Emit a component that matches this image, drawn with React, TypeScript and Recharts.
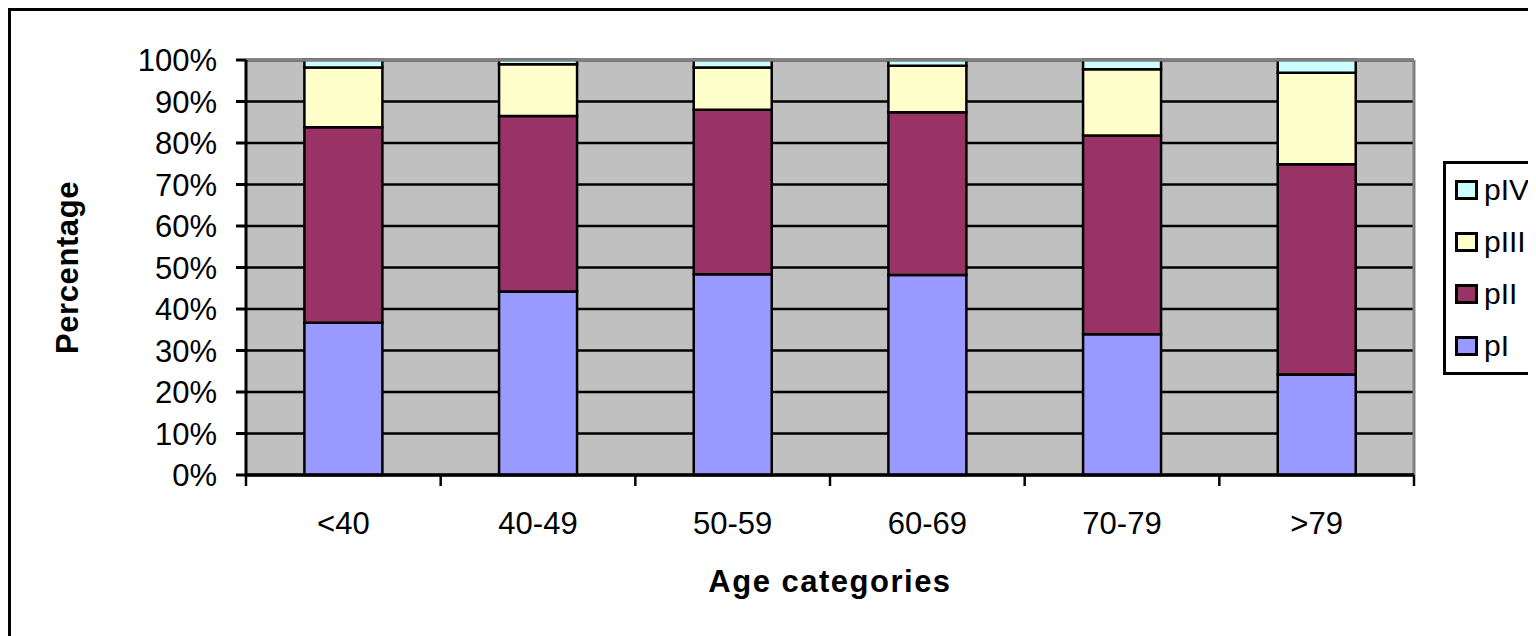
import React from 'react';
import { Bar, BarChart, CartesianGrid, ReferenceLine, XAxis, YAxis } from 'recharts';

// Stacked 100% bars: distribution of stages pI–pIV per age category.

const CATEGORIES = ['<40', '40-49', '50-59', '60-69', '70-79', '>79'];
const P_I = [36.7, 44.2, 48.4, 48.2, 33.9, 24.2];
const P_II = [47.1, 42.3, 39.6, 39.2, 47.9, 50.7];
const P_III = [14.4, 12.5, 10.2, 11.2, 16.0, 22.0];
const P_IV = [1.8, 1.0, 1.8, 1.4, 2.2, 3.1];
const Y_TICKS = [0, 10, 20, 30, 40, 50, 60, 70, 80, 90, 100];

const SERIES = [
  { key: 'pI', label: 'pI', color: '#9999FF' },
  { key: 'pII', label: 'pII', color: '#993366' },
  { key: 'pIII', label: 'pIII', color: '#FFFFCC' },
  { key: 'pIV', label: 'pIV', color: '#CCFFFF' },
];

const FONT = '"Liberation Sans", Arial, sans-serif';

const data = CATEGORIES.map((name, i) => ({
  name,
  pI: P_I[i],
  pII: P_II[i],
  pIII: P_III[i],
  pIV: P_IV[i],
}));

// Category label plus the small tick marks on the group boundaries
// (half a band to either side of the label).
const CatTick = (props: any) => {
  const { x, y, payload, index } = props;
  const half = payload && payload.offset ? payload.offset : 0;
  const last = index === CATEGORIES.length - 1;
  return (
    <g>
      <line x1={x - half} x2={x - half} y1={y} y2={y + 11} stroke="#000" strokeWidth={2.5} />
      {last && <line x1={x + half} x2={x + half} y1={y} y2={y + 11} stroke="#000" strokeWidth={2.5} />}
      <text
        x={x}
        y={y + 48}
        textAnchor="middle"
        dominantBaseline="central"
        fontFamily={FONT}
        fontSize={31}
        fill="#000"
      >
        {payload.value}
      </text>
    </g>
  );
};

const YTitle = (props: any) => {
  const vb = props.viewBox || { x: 0, y: 0, width: 0, height: 0 };
  const cx = vb.x + 56;
  const cy = vb.y + vb.height / 2;
  return (
    <text
      x={cx}
      y={cy}
      transform={`rotate(-90 ${cx} ${cy})`}
      textAnchor="middle"
      dominantBaseline="central"
      fontFamily={FONT}
      fontSize={31}
      fontWeight="bold"
      letterSpacing={0.6}
      fill="#000"
    >
      Percentage
    </text>
  );
};

const LegendBox = () => (
  <div
    style={{
      position: 'absolute',
      left: 1432,
      top: 150,
      width: 140,
      border: '3px solid #000',
      background: '#fff',
      fontFamily: FONT,
      fontSize: 30,
    }}
  >
    {[...SERIES].reverse().map((s) => (
      <div key={s.key} style={{ height: 52, display: 'flex', alignItems: 'center', paddingLeft: 9 }}>
        <span
          style={{
            display: 'inline-block',
            width: 17,
            height: 14,
            border: '3px solid #000',
            background: s.color,
            marginRight: 6,
          }}
        />
        <span>{s.label}</span>
      </div>
    ))}
  </div>
);

export default function App() {
  return (
    <div
      style={{
        position: 'relative',
        width: 1528,
        height: 628,
        boxSizing: 'border-box',
        borderLeft: '3px solid #000',
        borderTop: '3px solid #000',
        overflow: 'hidden',
        background: '#fff',
        fontFamily: FONT,
      }}
    >
      <BarChart
        width={1525}
        height={625}
        data={data}
        margin={{ top: 49, right: 122, bottom: 0, left: 0 }}
        barCategoryGap="30%"
      >
        <CartesianGrid vertical={false} stroke="#000" strokeWidth={2.5} fill="#C0C0C0" fillOpacity={1} />
        <XAxis
          dataKey="name"
          interval={0}
          height={161}
          axisLine={{ stroke: '#000', strokeWidth: 3.5 }}
          tickLine={false}
          tickSize={0}
          tickMargin={0}
          tick={CatTick}
          label={{
            value: 'Age categories',
            position: 'insideTop',
            offset: 95,
            fontFamily: FONT,
            fontSize: 31,
            fontWeight: 'bold',
            letterSpacing: 1.5,
            fill: '#000',
          }}
        />
        <YAxis
          width={235}
          domain={[0, 100]}
          ticks={Y_TICKS}
          interval={0}
          tickFormatter={(v: number) => `${v}%`}
          axisLine={{ stroke: '#000', strokeWidth: 3 }}
          tickLine={{ stroke: '#000', strokeWidth: 3 }}
          tickSize={10}
          tickMargin={19}
          tick={{ fontFamily: FONT, fontSize: 31, fill: '#000' }}
          label={<YTitle />}
        />
        <ReferenceLine y={100} stroke="#808080" strokeWidth={3} />
        <ReferenceLine
          x={CATEGORIES[CATEGORIES.length - 1]}
          position="end"
          stroke="#808080"
          strokeWidth={3}
        />
        {SERIES.map((s) => (
          <Bar
            key={s.key}
            dataKey={s.key}
            stackId="stage"
            fill={s.color}
            stroke="#000"
            strokeWidth={2.5}
            isAnimationActive={false}
          />
        ))}
      </BarChart>
      <LegendBox />
    </div>
  );
}
